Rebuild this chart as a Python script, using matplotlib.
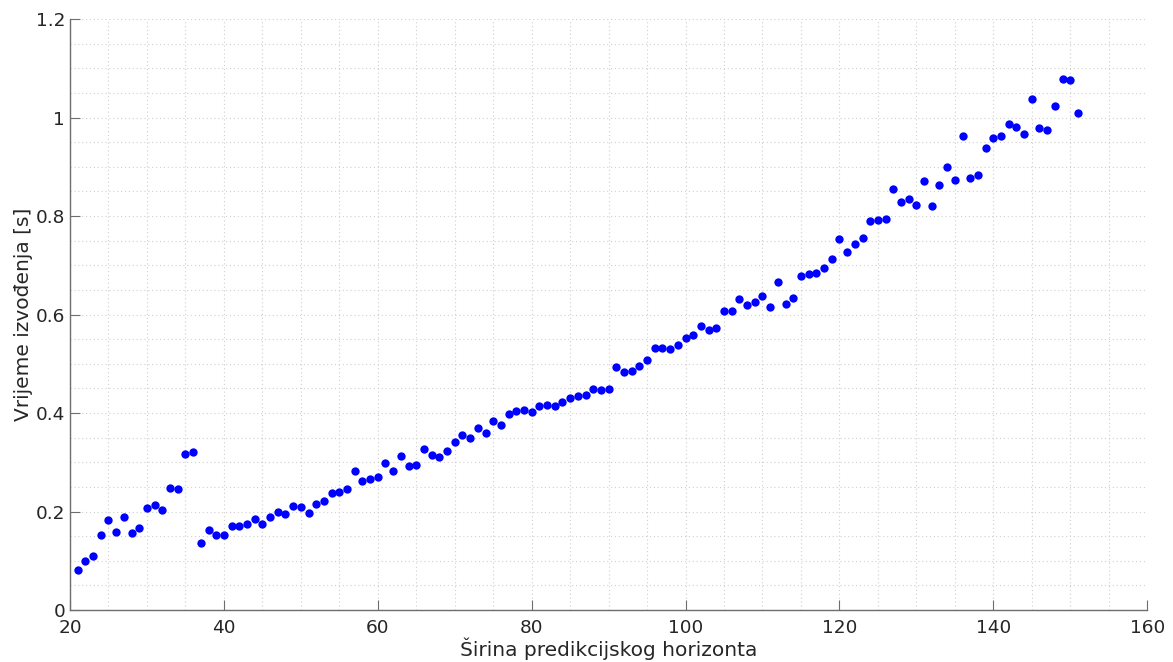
import numpy as np
import matplotlib
matplotlib.use("Agg")
import matplotlib.pyplot as plt
from matplotlib.ticker import MultipleLocator

# Prediction horizon width and measured execution time [s]
horizon = list(range(21, 152))
exec_time = [
    0.081, 0.100, 0.110, 0.153, 0.182, 0.158, 0.188, 0.157, 0.167, 0.208,
    0.213, 0.204, 0.247, 0.245, 0.316, 0.320, 0.137, 0.163, 0.152, 0.153,
    0.170, 0.171, 0.174, 0.184, 0.175, 0.188, 0.200, 0.195, 0.212, 0.209,
    0.198, 0.216, 0.222, 0.237, 0.239, 0.245, 0.283, 0.261, 0.267, 0.271,
    0.298, 0.282, 0.312, 0.292, 0.294, 0.326, 0.314, 0.310, 0.322, 0.341,
    0.355, 0.349, 0.369, 0.359, 0.384, 0.375, 0.399, 0.404, 0.406, 0.402,
    0.414, 0.416, 0.415, 0.422, 0.430, 0.434, 0.436, 0.449, 0.446, 0.448,
    0.493, 0.483, 0.485, 0.495, 0.508, 0.532, 0.532, 0.530, 0.538, 0.552,
    0.558, 0.577, 0.569, 0.573, 0.607, 0.607, 0.632, 0.619, 0.625, 0.638,
    0.615, 0.666, 0.621, 0.634, 0.678, 0.682, 0.684, 0.694, 0.713, 0.753,
    0.727, 0.743, 0.755, 0.790, 0.792, 0.794, 0.855, 0.828, 0.834, 0.822,
    0.871, 0.820, 0.863, 0.900, 0.873, 0.962, 0.877, 0.883, 0.938, 0.958,
    0.962, 0.987, 0.981, 0.966, 1.038, 0.979, 0.975, 1.023, 1.078, 1.076,
    1.009,
]

x_ticks = [20, 40, 60, 80, 100, 120, 140, 160]
y_ticks = [0, 0.2, 0.4, 0.6, 0.8, 1.0, 1.2]
y_tick_labels = ["0", "0.2", "0.4", "0.6", "0.8", "1", "1.2"]

fig = plt.figure(figsize=(11.73, 6.62), dpi=100)
ax = fig.add_axes([0.0597, 0.0785, 0.9183, 0.8928])

ax.plot(horizon, exec_time, linestyle="none", marker="o", markersize=6,
        color="#0000ff", markeredgewidth=0)

ax.set_xlim(20, 160)
ax.set_ylim(0, 1.2)
ax.set_xticks(x_ticks)
ax.set_yticks(y_ticks)
ax.set_yticklabels(y_tick_labels)
ax.xaxis.set_minor_locator(MultipleLocator(5))
ax.yaxis.set_minor_locator(MultipleLocator(0.05))

ax.grid(True, which="both", linestyle=(0, (1, 2.5)), color="#cfcfcf", linewidth=0.8)
ax.set_axisbelow(True)

for side in ("top", "right"):
    ax.spines[side].set_visible(False)
for side in ("left", "bottom"):
    ax.spines[side].set_color("#6e6e6e")
    ax.spines[side].set_linewidth(1.0)

ax.tick_params(which="major", direction="in", length=7, color="#6e6e6e",
               labelsize=13.3, labelcolor="#262626")
ax.tick_params(axis="x", which="major", pad=6.5)
ax.tick_params(which="minor", direction="in", length=0)

ax.set_xlabel("Širina predikcijskog horizonta", fontsize=14.5, color="#262626", labelpad=0)
ax.set_ylabel("Vrijeme izvođenja [s]", fontsize=14.5, color="#262626", labelpad=2)

fig.savefig("out.png", dpi=100)
